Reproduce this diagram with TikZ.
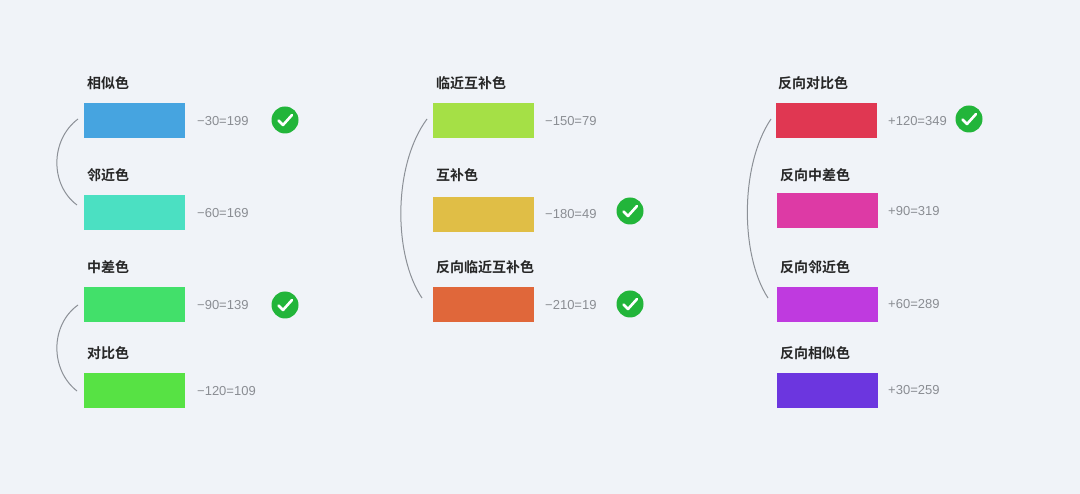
\documentclass[tikz,border=0pt]{standalone}
\usepackage{fontspec}
\setmainfont{Liberation Sans}
\newfontfamily\cjk{Noto Sans CJK SC}[BoldFont={* Bold}]
\definecolor{bg}{HTML}{F0F3F8}
\definecolor{valc}{HTML}{8A8D93}
\definecolor{okc}{HTML}{22B53A}
\definecolor{arcc}{HTML}{8C9097}
\definecolor{ca}{HTML}{46A4E0}
\definecolor{cb}{HTML}{4BE0C2}
\definecolor{cc}{HTML}{42E06A}
\definecolor{cd}{HTML}{57E244}
\definecolor{ce}{HTML}{A5E046}
\definecolor{cf}{HTML}{E0BE46}
\definecolor{cg}{HTML}{E0673A}
\definecolor{ch}{HTML}{E03752}
\definecolor{ci}{HTML}{DD3AA5}
\definecolor{cj}{HTML}{BF3ADF}
\definecolor{ck}{HTML}{6C36DF}
\begin{document}
\begin{tikzpicture}[x=1pt,y=-1pt,
  sw/.style={minimum width=101pt,minimum height=35pt,inner sep=0pt,anchor=north west},
  lab/.style={anchor=west,inner sep=0pt,font=\cjk\bfseries\fontsize{14}{14}\selectfont,text=black!85},
  val/.style={anchor=west,inner sep=0pt,font=\fontsize{13}{13}\selectfont,text=valc},
  arcl/.style={draw=arcc,line width=1pt}]
\fill[bg] (0,0) rectangle (1080,494);
\useasboundingbox (0,0) rectangle (1080,494);
\newcommand\ok[2]{\fill[okc] (#1,#2) circle (13.5);
 \draw[white,line width=2.6pt,line cap=round,line join=round] (#1-6.5,#2+0.5) -- (#1-2,#2+5) -- (#1+7,#2-5);}
% column 1
\node[lab] (l1) at (87,83) {相似色};
\node[sw,fill=ca] (s1) at (84,103) {};
\node[val] (v1) at (197,121) {−30=199};
\node[lab] (l2) at (87,175) {邻近色};
\node[sw,fill=cb] (s2) at (84,195) {};
\node[val] (v2) at (197,213) {−60=169};
\node[lab] (l3) at (87,267) {中差色};
\node[sw,fill=cc] (s3) at (84,287) {};
\node[val] (v3) at (197,305) {−90=139};
\node[lab] (l4) at (87,353) {对比色};
\node[sw,fill=cd] (s4) at (84,373) {};
\node[val] (v4) at (197,391) {−120=109};
\ok{285}{120}\ok{285}{305}
\draw[arcl] (78,119) .. controls (50,140) and (50,185) .. (77,205);
\draw[arcl] (78,305) .. controls (50,325) and (50,370) .. (77,391);
% column 2
\node[lab] (m1) at (436,83) {临近互补色};
\node[sw,fill=ce] (t1) at (433,103) {};
\node[val] (w1) at (545,121) {−150=79};
\node[lab] (m2) at (436,175) {互补色};
\node[sw,fill=cf] (t2) at (433,197) {};
\node[val] (w2) at (545,214) {−180=49};
\node[lab] (m3) at (436,267) {反向临近互补色};
\node[sw,fill=cg] (t3) at (433,287) {};
\node[val] (w3) at (545,305) {−210=19};
\ok{630}{211}\ok{630}{304}
\draw[arcl] (427,119) .. controls (393,165) and (393,255) .. (422,298);
% column 3
\node[lab] (n1) at (778,83) {反向对比色};
\node[sw,fill=ch] (u1) at (776,103) {};
\node[val] (x1) at (888,121) {+120=349};
\node[lab] (n2) at (780,175) {反向中差色};
\node[sw,fill=ci] (u2) at (777,193) {};
\node[val] (x2) at (888,211) {+90=319};
\node[lab] (n3) at (780,267) {反向邻近色};
\node[sw,fill=cj] (u3) at (777,287) {};
\node[val] (x3) at (888,304) {+60=289};
\node[lab] (n4) at (780,353) {反向相似色};
\node[sw,fill=ck] (u4) at (777,373) {};
\node[val] (x4) at (888,390) {+30=259};
\ok{969}{119}
\draw[arcl] (771,119) .. controls (740,165) and (740,255) .. (768,298);
\end{tikzpicture}
\end{document}
